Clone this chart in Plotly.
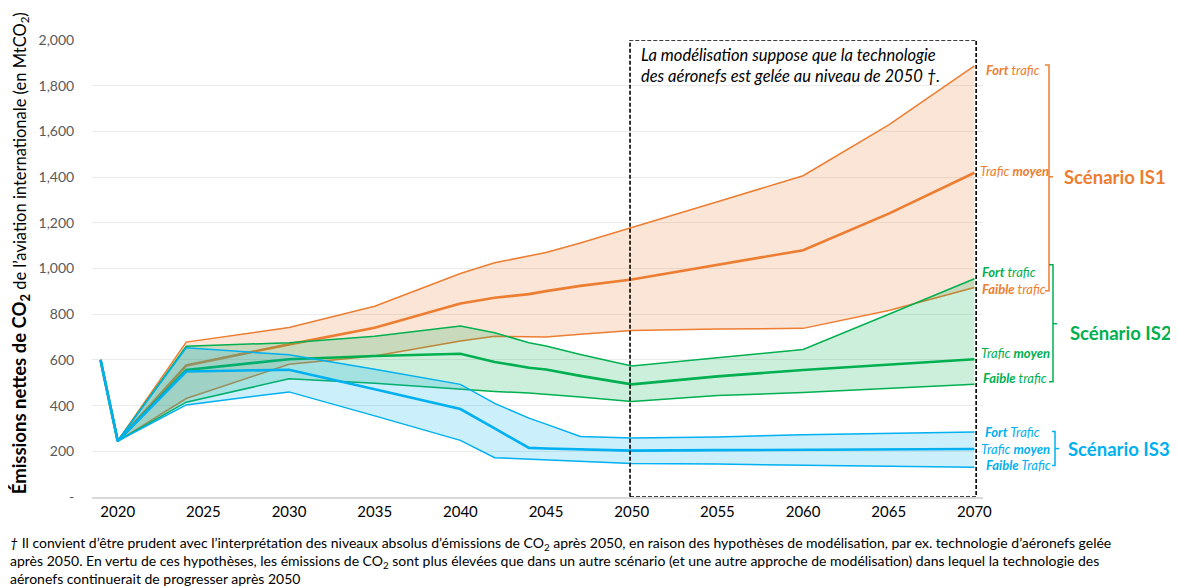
import plotly.graph_objects as go

# ---------------- data ----------------
years = [2019, 2020, 2024, 2030, 2035, 2040, 2042, 2044, 2045, 2047, 2050, 2055, 2060, 2065, 2070]

is1_high = [600, 245, 678, 742, 835, 978, 1025, 1055, 1070, 1112, 1179, 1292, 1406, 1629, 1887]
is1_mid  = [600, 245, 576, 668, 741, 847, 872, 888, 901, 924, 952, 1017, 1080, 1240, 1419]
is1_low  = [600, 245, 431, 581, 617, 683, 703, 702, 700, 712, 729, 735, 738, 816, 917]

is2_high = [600, 245, 660, 675, 704, 748, 719, 675, 661, 624, 573, 610, 646, 800, 955]
is2_mid  = [600, 245, 556, 603, 617, 627, 591, 566, 558, 530, 493, 528, 556, 580, 603]
is2_low  = [600, 245, 415, 517, 498, 472, 462, 455, 450, 438, 418, 444, 457, 475, 493]

is3_high = [600, 245, 653, 622, 559, 493, 410, 345, 319, 265, 258, 263, 272, 278, 285]
is3_mid  = [600, 245, 549, 557, 472, 385, 300, 215, 212, 208, 203, 205, 206, 208, 210]
is3_low  = [600, 245, 403, 460, 355, 248, 172, 165, 163, 157, 147, 144, 140, 135, 130]

x_ticks = [2020, 2025, 2030, 2035, 2040, 2045, 2050, 2055, 2060, 2065, 2070]
y_ticks = [0, 200, 400, 600, 800, 1000, 1200, 1400, 1600, 1800, 2000]
y_ticktext = ["-", "200", "400", "600", "800", "1,000", "1,200", "1,400", "1,600", "1,800", "2,000"]

ORANGE = "#ED7D31"
GREEN = "#00B050"
BLUE = "#00B0F0"
FILLS = {ORANGE: "rgba(237,125,49,0.2)", GREEN: "rgba(0,176,80,0.2)", BLUE: "rgba(0,176,240,0.2)"}

FONT = "Lato"

fig = go.Figure()

for low, high, mid, col in [(is1_low, is1_high, is1_mid, ORANGE),
                            (is2_low, is2_high, is2_mid, GREEN),
                            (is3_low, is3_high, is3_mid, BLUE)]:
    fig.add_trace(go.Scatter(x=years, y=low, mode="lines", line=dict(color=col, width=1.5),
                             hoverinfo="skip", showlegend=False))
    fig.add_trace(go.Scatter(x=years, y=high, mode="lines", line=dict(color=col, width=1.5),
                             fill="tonexty", fillcolor=FILLS[col], hoverinfo="skip", showlegend=False))
    fig.add_trace(go.Scatter(x=years, y=mid, mode="lines", line=dict(color=col, width=2.6),
                             hoverinfo="skip", showlegend=False))

# ---------------- layout geometry (reference pixels) ----------------
O = 8                      # page body margin
W, H = 1178 - O, 586 - O   # figure size
L, R, T, B = 92, 983, 40, 497.5   # plot area in reference (window) pixels


def px(x):
    return (x - L) / (R - L)


def py(y):
    return (B - y) / (B - T)


fig.update_layout(
    width=W, height=H,
    margin=dict(l=L - O, r=W - (R - O), t=T - O, b=H - (B - O)),
    paper_bgcolor="white", plot_bgcolor="white",
    font=dict(family=FONT, color="#000000"),
    xaxis=dict(range=[2018.5, 2070.5], tickvals=x_ticks, showgrid=False, zeroline=False,
               showline=True, linecolor="#D9D9D9", linewidth=1.5,
               tickfont=dict(size=15, color="#000000"), ticks=""),
    yaxis=dict(range=[0, 2000], tickvals=y_ticks, ticktext=y_ticktext, showgrid=True,
               gridcolor="#EBEBEB", gridwidth=1, zeroline=False, showline=False,
               tickfont=dict(size=14, color="#595959"), ticks="outside", ticklen=14,
               tickcolor="rgba(0,0,0,0)"),
)

# dashed box
fig.add_shape(type="rect", xref="x", yref="y", x0=2049.9, x1=2070.1, y0=0, y1=2000,
              line=dict(color="#000000", width=1.6, dash="4px,2px"), fillcolor="rgba(0,0,0,0)")

ann = []
ann.append(dict(x=px(639), y=py(43), xref="paper", yref="paper", xanchor="left", yanchor="top",
                align="left", showarrow=False,
                text="<i>La modélisation suppose que la technologie<br>des aéronefs est gelée au niveau de 2050 †.</i>",
                font=dict(size=16.5, color="#000000", family=FONT)))

# right-side labels
labels = [
    (984, 70, "<b><i>Fort</i></b><i> trafic</i>", ORANGE),
    (978, 171, "<i>Trafic </i><b><i>moyen</i></b>", ORANGE),
    (980, 289, "<b><i>Faible</i></b><i> trafic</i>", ORANGE),
    (980, 272, "<b><i>Fort</i></b><i> trafic</i>", GREEN),
    (979, 353, "<i>Trafic </i><b><i>moyen</i></b>", GREEN),
    (981, 378, "<b><i>Faible</i></b><i> trafic</i>", GREEN),
    (983, 432, "<b><i>Fort</i></b><i> Trafic</i>", BLUE),
    (979, 449, "<i>Trafic </i><b><i>moyen</i></b>", BLUE),
    (984, 465, "<b><i>Faible</i></b><i> Trafic</i>", BLUE),
]
for x, y, t, c in labels:
    ann.append(dict(x=px(x), y=py(y), xref="paper", yref="paper", xanchor="left", yanchor="middle",
                    showarrow=False, text=t, font=dict(size=13, color=c, family=FONT)))

scen = [(1062, 177, "Scénario IS1", ORANGE), (1068, 333, "Scénario IS2", GREEN),
        (1066, 449, "Scénario IS3", BLUE)]
for x, y, t, c in scen:
    ann.append(dict(x=px(x), y=py(y), xref="paper", yref="paper", xanchor="left", yanchor="middle",
                    showarrow=False, text="<b>" + t + "</b>", font=dict(size=18.5, color=c, family=FONT)))

# brackets
brackets = [
    ([(1045, 65), (1049, 65), (1049, 291), (1045, 291)], [(1049, 177), (1053, 177)], ORANGE),
    ([(1049, 265), (1053, 265), (1053, 382), (1049, 382)], [(1053, 324), (1057, 324)], GREEN),
    ([(1052, 432), (1055, 432), (1055, 466), (1052, 466)], [(1055, 449), (1059, 449)], BLUE),
]
for main, tick, c in brackets:
    for pts in (main, tick):
        path = "M " + " L ".join(f"{px(a):.5f},{py(b):.5f}" for a, b in pts)
        fig.add_shape(type="path", xref="paper", yref="paper", path=path,
                      line=dict(color=c, width=1.5))

# y axis title
ann.append(dict(x=px(20.5), y=py(254), xref="paper", yref="paper", xanchor="center", yanchor="middle",
                textangle=-90, showarrow=False,
                text="<b><span style='font-size:18.5px'>Émissions nettes de CO<sub>2</sub></span></b>"
                     " de l’aviation internationale (en MtCO<sub>2</sub>)",
                font=dict(size=16.5, color="#000000", family=FONT)))

# footnote
ann.append(dict(x=px(8), y=py(533), xref="paper", yref="paper", xanchor="left", yanchor="top",
                align="left", showarrow=False,
                text="<i>†</i> Il convient d’être prudent avec l’interprétation des niveaux absolus d’émissions de CO<sub>2</sub> après 2050, en raison des hypothèses de modélisation, par ex. technologie d’aéronefs gelée"
                     "<br>après 2050. En vertu de ces hypothèses, les émissions de CO<sub>2</sub> sont plus élevées que dans un autre scénario (et une autre approche de modélisation) dans lequel la technologie des"
                     "<br>aéronefs continuerait de progresser après 2050",
                font=dict(size=14, color="#000000", family=FONT)))

fig.update_layout(annotations=ann)

fig.write_html("out.html")
